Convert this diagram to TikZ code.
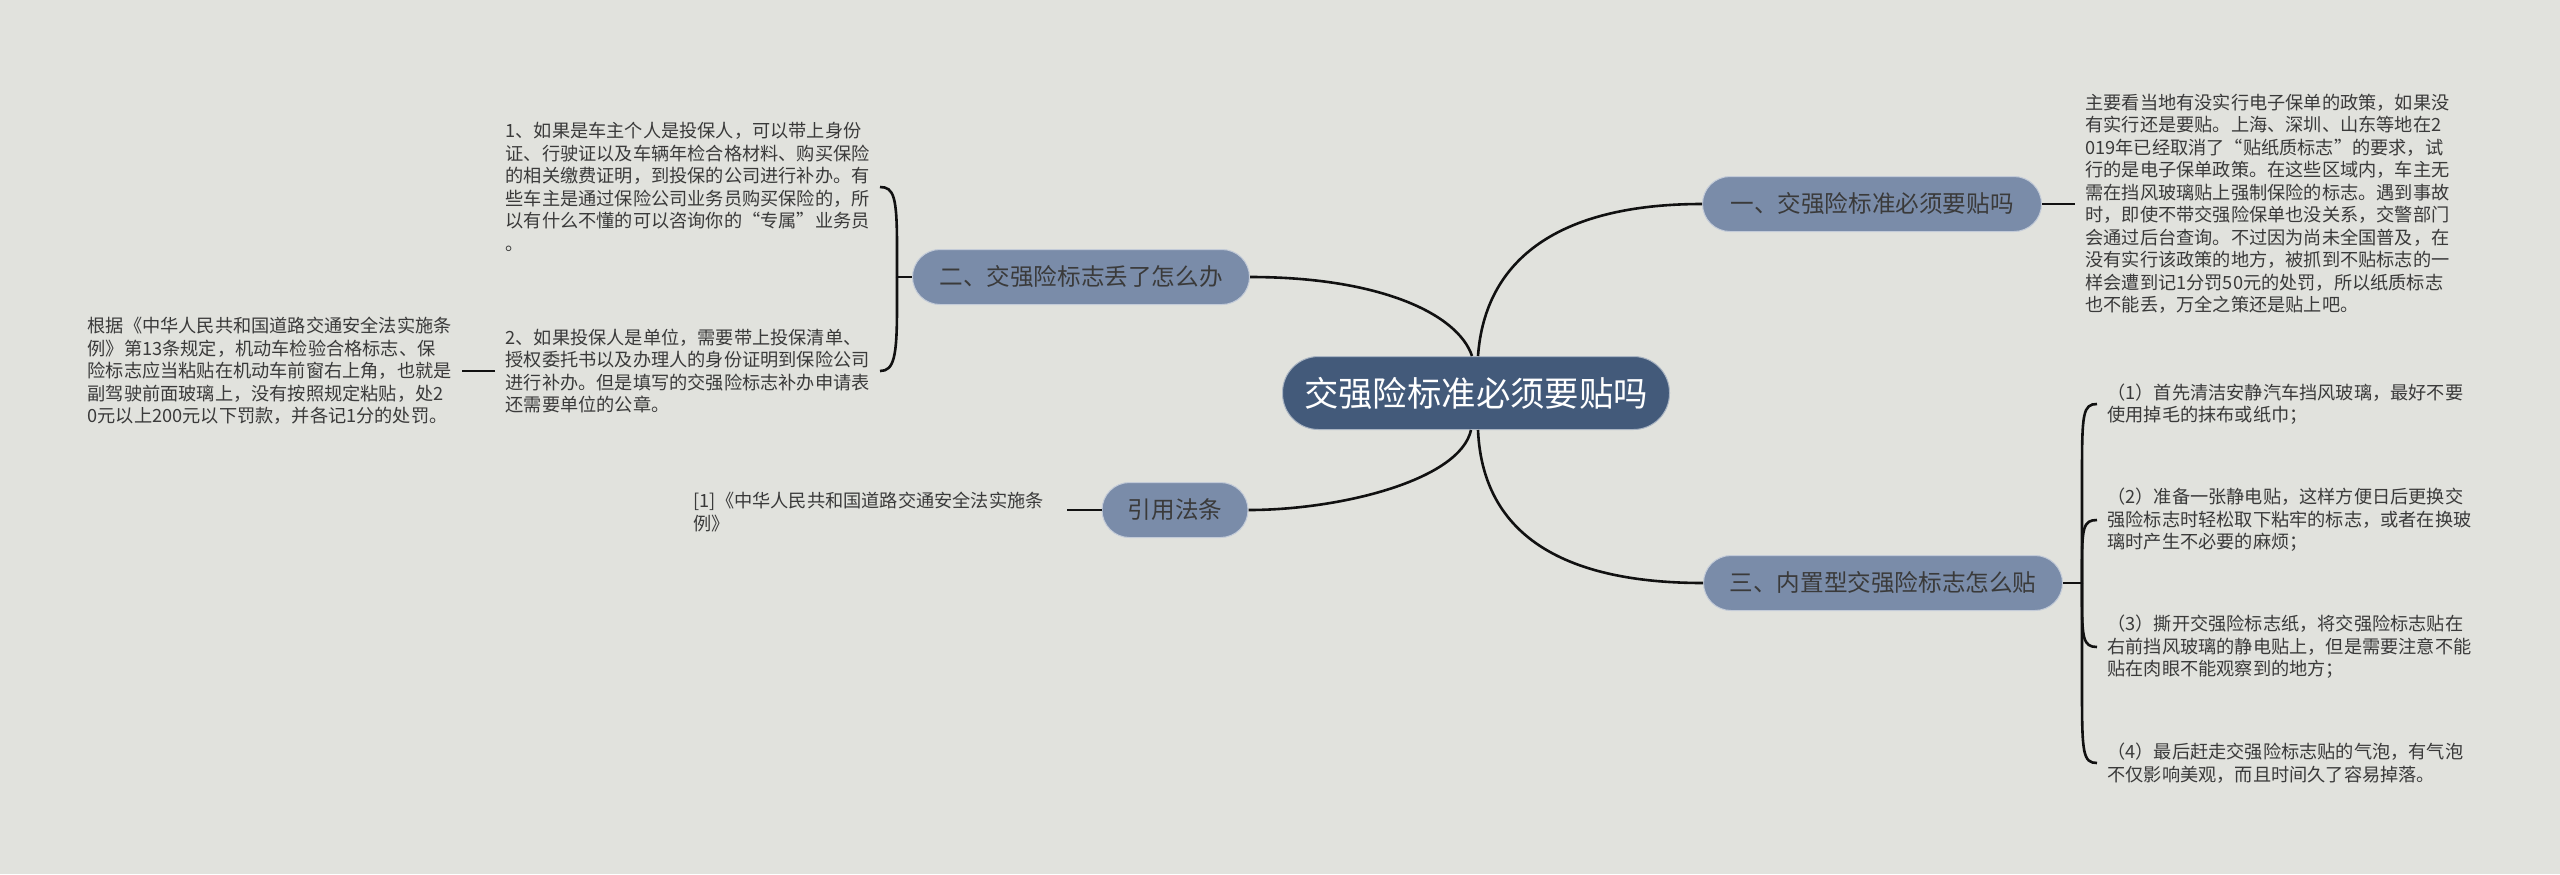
\documentclass[tikz,border=0pt]{standalone}
\usepackage{fontspec}
\setmainfont{Noto Sans CJK SC}
\usetikzlibrary{positioning,calc}
\definecolor{mapbg}{HTML}{E1E2DD}
\definecolor{mapnavy}{HTML}{435A7A}
\definecolor{mapslate}{HTML}{7A8CA9}
\definecolor{mapink}{HTML}{3A3A3A}
\definecolor{mapline}{HTML}{111111}
\tikzset{
    hubbox/.style={rounded corners=18pt,fill=mapnavy,draw=white!55!mapnavy,line width=0.5pt,text=white,minimum height=36.5pt,minimum width=193.5pt,inner sep=0pt,font=\fontsize{17.2}{20}\selectfont},
    topicbox/.style={rounded corners=13.75pt,fill=mapslate,draw=white!55!mapslate,line width=0.5pt,text=mapink,minimum height=27.5pt,inner sep=0pt,font=\fontsize{11.8}{14}\selectfont},
    leaftext/.style={align=left,text=mapink,inner sep=5pt,font=\fontsize{9.1}{11.25}\selectfont},
    linkline/.style={draw=mapline,line width=1.3pt}
}
\begin{document}
\begin{tikzpicture}[x=0.5pt,y=-0.5pt]
\fill[mapbg] (0,0) rectangle (2560,874);
\useasboundingbox (0,0) rectangle (2560,874);

\node[hubbox] (hub) at (1476,393) {交强险标准必须要贴吗};
\node[topicbox,minimum width=169.5pt] (t1) at (1872,204) {一、交强险标准必须要贴吗};
\node[topicbox,minimum width=168.5pt] (t2) at (1081,277) {二、交强险标志丢了怎么办};
\node[topicbox,minimum width=179.5pt] (t3) at (1883,583) {三、内置型交强险标志怎么贴};
\node[topicbox,minimum width=73pt] (t4) at (1175,510) {引用法条};

\node[leaftext,anchor=west] (n1) at (2075,204) {主要看当地有没实行电子保单的政策，如果没\\有实行还是要贴。上海、深圳、山东等地在2\\019年已经取消了“贴纸质标志”的要求，试\\行的是电子保单政策。在这些区域内，车主无\\需在挡风玻璃贴上强制保险的标志。遇到事故\\时，即使不带交强险保单也没关系，交警部门\\会通过后台查询。不过因为尚未全国普及，在\\没有实行该政策的地方，被抓到不贴标志的一\\样会遭到记1分罚50元的处罚，所以纸质标志\\也不能丢，万全之策还是贴上吧。};

\node[leaftext,anchor=east] (n2a) at (880,187) {1、如果是车主个人是投保人，可以带上身份\\证、行驶证以及车辆年检合格材料、购买保险\\的相关缴费证明，到投保的公司进行补办。有\\些车主是通过保险公司业务员购买保险的，所\\以有什么不懂的可以咨询你的“专属”业务员\\。};
\node[leaftext,anchor=east] (n2b) at (880,371) {2、如果投保人是单位，需要带上投保清单、\\授权委托书以及办理人的身份证明到保险公司\\进行补办。但是填写的交强险标志补办申请表\\还需要单位的公章。};
\node[leaftext,anchor=east] (n2c) at (462,371) {根据《中华人民共和国道路交通安全法实施条\\例》第13条规定，机动车检验合格标志、保\\险标志应当粘贴在机动车前窗右上角，也就是\\副驾驶前面玻璃上，没有按照规定粘贴，处2\\0元以上200元以下罚款，并各记1分的处罚。};

\node[leaftext,anchor=east] (nref) at (1054,512) {[1]《中华人民共和国道路交通安全法实施条\\例》};

\node[leaftext,anchor=west] (n3a) at (2097,404) {（1）首先清洁安静汽车挡风玻璃，最好不要\\使用掉毛的抹布或纸巾；};
\node[leaftext,anchor=west] (n3b) at (2097,520) {（2）准备一张静电贴，这样方便日后更换交\\强险标志时轻松取下粘牢的标志，或者在换玻\\璃时产生不必要的麻烦；};
\node[leaftext,anchor=west] (n3c) at (2097,647) {（3）撕开交强险标志纸，将交强险标志贴在\\右前挡风玻璃的静电贴上，但是需要注意不能\\贴在肉眼不能观察到的地方；};
\node[leaftext,anchor=west] (n3d) at (2097,763) {（4）最后赶走交强险标志贴的气泡，有气泡\\不仅影响美观，而且时间久了容易掉落。};

\coordinate (j2) at (897,277);
\coordinate (j3) at (2082,583);

\draw[linkline] ([xshift=1pt]hub.north) .. controls +(7,-97) and +(-143,0) .. (t1.west);
\draw[linkline] ([xshift=-2pt]hub.north) .. controls +(-14,-42) and +(130,0) .. (t2.east);
\draw[linkline] ([xshift=1pt]hub.south) .. controls +(5,115) and +(-124,0) .. (t3.west);
\draw[linkline] ([xshift=-2.5pt]hub.south) .. controls +(-11,50) and +(92,0) .. (t4.east);

\draw[linkline] (t1.east) -- (n1.west);
\draw[linkline] (t4.west) -- ([xshift=6.5pt]nref.east |- t4.west);

\draw[linkline] (t2.west) -- (j2);
\draw[linkline] (j2) -- ++(0,-30) .. controls +(0,-50) and +(14,0) .. (n2a.east);
\draw[linkline] (j2) -- ++(0,30) .. controls +(0,50) and +(14,0) .. (n2b.east);
\draw[linkline] (n2b.west) -- (n2c.east);

\draw[linkline] (t3.east) -- (j3);
\draw[linkline] (j3) -- ++(0,-110) .. controls +(0,-60) and +(-14,0) .. (n3a.west);
\draw[linkline] (j3) -- ++(0,-15) .. controls +(0,-40) and +(-14,0) .. (n3b.west);
\draw[linkline] (j3) -- ++(0,15) .. controls +(0,40) and +(-14,0) .. (n3c.west);
\draw[linkline] (j3) -- ++(0,110) .. controls +(0,60) and +(-14,0) .. (n3d.west);
\end{tikzpicture}
\end{document}
